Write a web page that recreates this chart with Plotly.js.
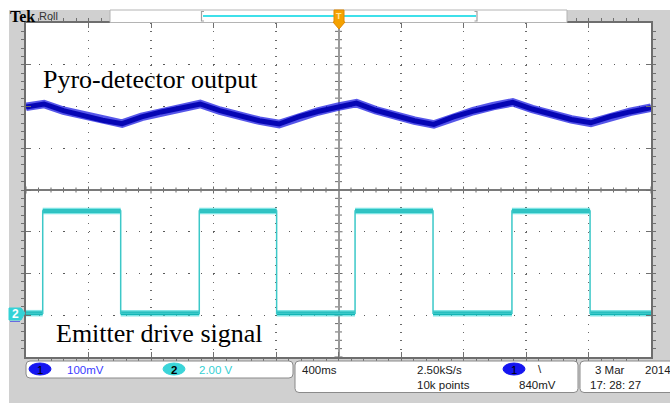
<!DOCTYPE html>
<html><head><meta charset="utf-8">
<script src="https://cdn.plot.ly/plotly-3.0.1.min.js"></script>
<style>html,body{margin:0;padding:0;background:#fff;}#chart{width:670px;height:403px;}</style>
</head><body><div id="chart"></div>
<script>
// ---- Data ----
// time in seconds (400 ms/div, screen centre = 0 s)
const ch1_t = [-2.0, -1.885, -1.76, -1.635, -1.51, -1.385, -1.26, -1.135, -1.01, -0.885, -0.759, -0.633, -0.506, -0.38, -0.256, -0.133, -0.009, 0.115, 0.239, 0.363, 0.486, 0.61, 0.736, 0.863, 0.989, 1.115, 1.24, 1.365, 1.49, 1.615, 1.74, 1.865, 2.0];
// Pyro-detector output, mV relative to screen centre (100 mV/div)
const ch1_mV = [199, 206, 190, 178, 167, 159, 175, 187, 198, 206, 190, 177, 166, 158, 175, 188, 199, 208, 191, 177, 166, 157, 175, 189, 201, 210, 194, 181, 169, 161, 176, 187, 197];
// Emitter drive signal, volts (2.00 V/div)
const ch2_t = [-2.0, -1.893, -1.893, -1.394, -1.394, -0.891, -0.891, -0.396, -0.396, 0.106, 0.106, 0.605, 0.605, 1.110, 1.110, 1.610, 1.610, 2.0];
const ch2_V = [0, 0, 4.9, 4.9, 0, 0, 4.9, 4.9, 0, 0, 4.9, 4.9, 0, 0, 4.9, 4.9, 0, 0];
const ch1_scale = 100;   // mV/div
const ch2_scale = 2.0;   // V/div
const ch2_offset = -2.95; // div (ground marker)
const labels = {
  ch1: 'Pyro-detector output', ch2: 'Emitter drive signal',
  ch1Volts: '100mV', ch2Volts: '2.00 V', timebase: '400ms', rate: '2.50kS/s',
  points: '10k points', trigLevel: '840mV', date: '3 Mar', year: '2014', time: '17: 28: 27'
};

// ---- geometry helpers (pixels -> paper) ----
const L = 26, R = 651, T = 23, B = 357;
const px = p => (p - L) / (R - L);
const py = p => (B - p) / (B - T);
function rrect(x0, y0, x1, y1, r) {
  const rx = r / (R - L), ry = r / (B - T);
  const X0 = px(x0), X1 = px(x1), Y0 = py(y0), Y1 = py(y1);
  return `M${X0 + rx},${Y0} L${X1 - rx},${Y0} Q${X1},${Y0} ${X1},${Y0 - ry} L${X1},${Y1 + ry} Q${X1},${Y1} ${X1 - rx},${Y1} L${X0 + rx},${Y1} Q${X0},${Y1} ${X0},${Y1 + ry} L${X0},${Y0 - ry} Q${X0},${Y0} ${X0 + rx},${Y0} Z`;
}
function rect(x0, y0, x1, y1, fill, line, lw) {
  return {type: 'rect', xref: 'paper', yref: 'paper', x0: px(x0), x1: px(x1), y0: py(y1), y1: py(y0),
          fillcolor: fill, line: {color: line || fill, width: lw === undefined ? 0 : lw}, layer: 'above'};
}

const ch1_y = ch1_mV.map(v => v / ch1_scale);
const ch2_y = ch2_V.map(v => v / ch2_scale + ch2_offset);
const lvlX = [], lvlY = [];
for (let i = 0; i < ch2_t.length - 1; i++) {
  if (ch2_V[i] === ch2_V[i + 1] && ch2_t[i] !== ch2_t[i + 1]) {
    lvlX.push(ch2_t[i], ch2_t[i + 1], null); lvlY.push(ch2_y[i], ch2_y[i + 1], null);
  }
}

const traces = [
  {x: ch1_t, y: ch1_y, mode: 'lines', line: {color: 'rgba(30,30,225,0.75)', width: 8.5}, hoverinfo: 'skip'},
  {x: ch1_t, y: ch1_y, mode: 'lines', line: {color: '#0606b4', width: 5}, hoverinfo: 'skip'},
  {x: lvlX, y: lvlY, mode: 'lines', line: {color: 'rgba(60,215,215,0.65)', width: 6.5}, hoverinfo: 'skip'},
  {x: lvlX, y: lvlY, mode: 'lines', line: {color: '#12b6b6', width: 3.5}, hoverinfo: 'skip'},
  {x: ch2_t, y: ch2_y, mode: 'lines', line: {color: '#3cc8c8', width: 1.5}, hoverinfo: 'skip'}
];

const shapes = [];
shapes.push(rect(0, 0, 670, 10, '#ffffff'));
shapes.push(rect(0, 0, 9, 403, '#ffffff'));
shapes.push(rect(110, 10, 567, 22.5, '#ffffff', '#b4b4b4', 1));
shapes.push({type: 'line', xref: 'paper', yref: 'paper', x0: px(203), x1: px(476), y0: py(16), y1: py(16), line: {color: '#3ee0ea', width: 2}, layer: 'above'});
shapes.push({type: 'path', xref: 'paper', yref: 'paper', layer: 'above', line: {color: '#a0a0a0', width: 1.2}, path: `M${px(204)},${py(11.5)} L${px(201.5)},${py(11.5)} L${px(201.5)},${py(21)} L${px(204)},${py(21)}`});
shapes.push({type: 'path', xref: 'paper', yref: 'paper', layer: 'above', line: {color: '#a0a0a0', width: 1.2}, path: `M${px(474.5)},${py(11.5)} L${px(477)},${py(11.5)} L${px(477)},${py(21)} L${px(474.5)},${py(21)}`});
shapes.push({type: 'path', xref: 'paper', yref: 'paper', layer: 'above', fillcolor: '#f5a200', line: {color: '#e08800', width: 1},
  path: `M${px(334)},${py(10)} L${px(344)},${py(10)} L${px(344)},${py(22)} L${px(345)},${py(22)} L${px(339)},${py(29)} L${px(333)},${py(22)} L${px(334)},${py(22)} Z`});
shapes.push({type: 'path', xref: 'paper', yref: 'paper', layer: 'above', fillcolor: '#34d2d6', line: {color: '#34d2d6', width: 1},
  path: `M${px(9)},${py(308)} L${px(21)},${py(308)} L${px(25)},${py(313)} L${px(21)},${py(320)} L${px(9)},${py(320)} Z`});
shapes.push({type: 'line', xref: 'paper', yref: 'paper', x0: px(10), x1: px(20), y0: py(321.5), y1: py(321.5), line: {color: '#6a6ae0', width: 1}, layer: 'above'});
for (let k = -25; k <= 25; k++) {
  const major = k % 5 === 0;
  shapes.push({type: 'line', xref: 'x', yref: 'y', ysizemode: 'pixel', yanchor: 0, x0: k * 0.08, x1: k * 0.08,
    y0: major ? -3.5 : -2.5, y1: major ? 3.5 : 2.5, line: {color: '#6a6a6a', width: 1}, layer: 'below'});
}
for (let k = -20; k <= 20; k++) {
  const major = k % 5 === 0;
  shapes.push({type: 'line', xref: 'x', yref: 'y', xsizemode: 'pixel', xanchor: 0, y0: k * 0.2, y1: k * 0.2,
    x0: major ? -4 : -3.5, x1: major ? 4 : 3.5, line: {color: '#6a6a6a', width: 1}, layer: 'below'});
}
shapes.push({type: 'path', xref: 'paper', yref: 'paper', layer: 'above', fillcolor: '#ffffff', line: {color: '#8a8a8a', width: 1}, path: rrect(26, 361, 293, 378, 4)});
shapes.push({type: 'path', xref: 'paper', yref: 'paper', layer: 'above', fillcolor: '#ffffff', line: {color: '#8a8a8a', width: 1}, path: rrect(295, 361, 578, 392.5, 4)});
shapes.push({type: 'path', xref: 'paper', yref: 'paper', layer: 'above', fillcolor: '#ffffff', line: {color: '#8a8a8a', width: 1}, path: rrect(580, 361, 676, 392.5, 4)});
function badge(x0, x1, yc, fill) {
  return {type: 'circle', xref: 'paper', yref: 'paper', layer: 'above', x0: px(x0), x1: px(x1), y0: py(yc + 6), y1: py(yc - 6),
          fillcolor: fill, line: {color: fill, width: 1}};
}
shapes.push(badge(29, 51, 369, '#1515f0'));
shapes.push(badge(163, 185, 369, '#3ad4d8'));
shapes.push(badge(503, 525, 369, '#1515f0'));

const SANS = 'Liberation Sans, Arial, sans-serif';
const SERIF = 'Liberation Serif, Times New Roman, serif';
function txt(text, x, y, opts) {
  opts = opts || {};
  return {text: text, xref: 'paper', yref: 'paper', x: px(x), y: py(y), xanchor: opts.xa || 'left', yanchor: 'middle',
          showarrow: false, font: {family: opts.family || SANS, size: opts.size || 11.5, color: opts.color || '#202020', weight: opts.weight || 'normal'}};
}
const annotations = [
  txt(labels.ch1, 41, 80, {family: SERIF, size: 26, color: '#000'}),
  txt(labels.ch2, 54, 333, {family: SERIF, size: 26, color: '#000'}),
  txt('Tek', 8, 16.5, {family: SERIF, size: 16, weight: 'bold', color: '#000'}),
  txt('Roll', 36.5, 16.5, {size: 11, color: '#333'}),
  txt('T', 339, 16, {xa: 'center', size: 9, weight: 'bold', color: '#ffe8a0'}),
  txt('2', 15, 314, {xa: 'center', size: 12, weight: 'bold', color: '#ffffff'}),
  txt('1', 40, 369.5, {xa: 'center', size: 11.5, color: '#000'}),
  txt(labels.ch1Volts, 64.5, 369.5, {color: '#3b3bff'}),
  txt('2', 174, 369.5, {xa: 'center', size: 11.5, weight: 'bold', color: '#000'}),
  txt(labels.ch2Volts, 196.5, 369.5, {color: '#34d0d4'}),
  txt(labels.timebase, 299.5, 369.5),
  txt(labels.rate, 414.5, 369.5),
  txt(labels.points, 414.5, 384.5),
  txt('1', 514, 369.5, {xa: 'center', size: 11.5, color: '#000'}),
  txt('\\', 540, 368.5, {xa: 'center'}),
  txt(labels.trigLevel, 516.5, 384.5),
  txt(labels.date, 593, 369.5),
  txt(labels.year, 642.5, 369.5),
  txt(labels.time, 587.5, 384.5)
];

const axisCommon = {
  showline: true, linecolor: '#6e6e6e', linewidth: 2, mirror: 'ticks',
  ticks: 'inside', ticklen: 5, tickcolor: '#707070', tickwidth: 1,
  showticklabels: false, showgrid: true, gridcolor: '#5a5a5a', gridwidth: 1.2,
  zeroline: true, fixedrange: true
};
const layout = {
  width: 670, height: 403,
  margin: {l: L, r: 670 - R, t: T, b: 403 - B, pad: 0},
  paper_bgcolor: '#d0d0d0', plot_bgcolor: '#ffffff',
  showlegend: false,
  xaxis: Object.assign({}, axisCommon, {range: [-2, 2], tick0: 0, dtick: 0.4, griddash: '1px,7.35px',
    gridcolor: '#6a6a6a',
    zerolinecolor: '#9a9a9a', zerolinewidth: 2,
    minor: {dtick: 0.08, ticklen: 3, tickcolor: '#707070', showgrid: false}}),
  yaxis: Object.assign({}, axisCommon, {range: [-4, 4], tick0: 0, dtick: 1, griddash: '1.2px,11.3px',
    zerolinecolor: '#7a7a7a', zerolinewidth: 1.2,
    minor: {dtick: 0.2, ticklen: 3, tickcolor: '#707070', showgrid: false}}),
  shapes: shapes,
  annotations: annotations
};
Plotly.newPlot('chart', traces, layout, {displayModeBar: false, staticPlot: true});
</script></body></html>
